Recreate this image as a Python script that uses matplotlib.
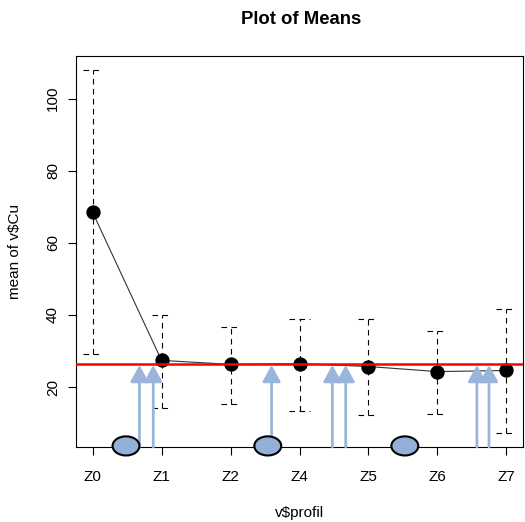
import matplotlib
matplotlib.use("Agg")
import matplotlib.pyplot as plt
from matplotlib.patches import Ellipse
import numpy as np

plt.rcParams['font.family'] = ['Liberation Sans', 'DejaVu Sans']

categories = ["Z0", "Z1", "Z2", "Z4", "Z5", "Z6", "Z7"]
means = [68.5, 27.4, 26.3, 26.5, 25.7, 24.3, 24.6]
upper = [107.8, 40.1, 36.7, 38.8, 38.8, 35.5, 41.7]
lower = [29.1, 14.1, 15.4, 13.5, 12.2, 12.5, 7.4]
overall_mean = 26.5

# annotation overlay (arrows and ovals), in category-axis units
arrow_x = [1.68, 1.88, 3.595, 4.476, 4.67, 6.572, 6.747]
arrow_tip = 26.1
oval_x = [1.485, 3.54, 5.527]

W, H = 525, 522
fig = plt.figure(figsize=(W/100, H/100), dpi=100)
ax = fig.add_axes([76/W, 1-447/H, (523-76)/W, (447-56)/H])

x = np.arange(1, len(categories) + 1)
lo, hi = min(lower), max(upper)
pad = 0.04 * (hi - lo)
ylim = (lo - pad, hi + pad)
ax.set_xlim(1 - 0.04*(len(x)-1), len(x) + 0.04*(len(x)-1))
ax.set_ylim(*ylim)

dash = (0, (5, 4))
ax.vlines(x, lower, upper, colors='black', linestyles=[dash], lw=0.8, zorder=2)
ax.hlines(upper, x - 0.145, x + 0.145, colors='black', linestyles=[dash], lw=0.8, zorder=2)
ax.hlines(lower, x - 0.145, x + 0.145, colors='black', linestyles=[dash], lw=0.8, zorder=2)
ax.plot(x, means, color='#333333', lw=0.8, zorder=3)
ax.plot(x, means, 'o', color='black', markersize=9.3, zorder=4)

ax.axhline(overall_mean, color='red', lw=1.8, zorder=5)

for ax_x in arrow_x:
    ax.annotate('', xy=(ax_x, arrow_tip), xytext=(ax_x, ylim[0]),
                arrowprops=dict(arrowstyle='-|>,head_length=1.0,head_width=0.55',
                                mutation_scale=10, color='#9ab5d9', lw=2.0,
                                shrinkA=0, shrinkB=0), zorder=6)

for ox in oval_x:
    e = Ellipse((ox, ylim[0] + 0.3), width=0.39, height=5.3, facecolor='#93b0d8',
                edgecolor='black', lw=1.5, clip_on=False, zorder=7)
    ax.add_patch(e)

ax.set_xticks(x)
ax.set_xticklabels(categories)
ax.set_yticks([20, 40, 60, 80, 100])
ax.set_yticklabels(['20', '40', '60', '80', '100'], rotation=90, va='center')
ax.tick_params(axis='both', direction='out', length=5.5, width=0.8, labelsize=11, colors='black', pad=6)
ax.tick_params(axis='x', pad=11)
for s in ax.spines.values():
    s.set_linewidth(0.8)

fig.text(299.5/W, 1-513/H, 'v$profil', fontsize=11, ha='center', va='center', parse_math=False)
fig.text(15.5/W, 1-251.5/H, 'mean of v$Cu', fontsize=11, ha='center', va='center',
         rotation=90, parse_math=False)
fig.text(301/W, 1-19/H, 'Plot of Means', fontsize=13.3, fontweight='bold', ha='center', va='center')

fig.savefig('out.png', dpi=100)
